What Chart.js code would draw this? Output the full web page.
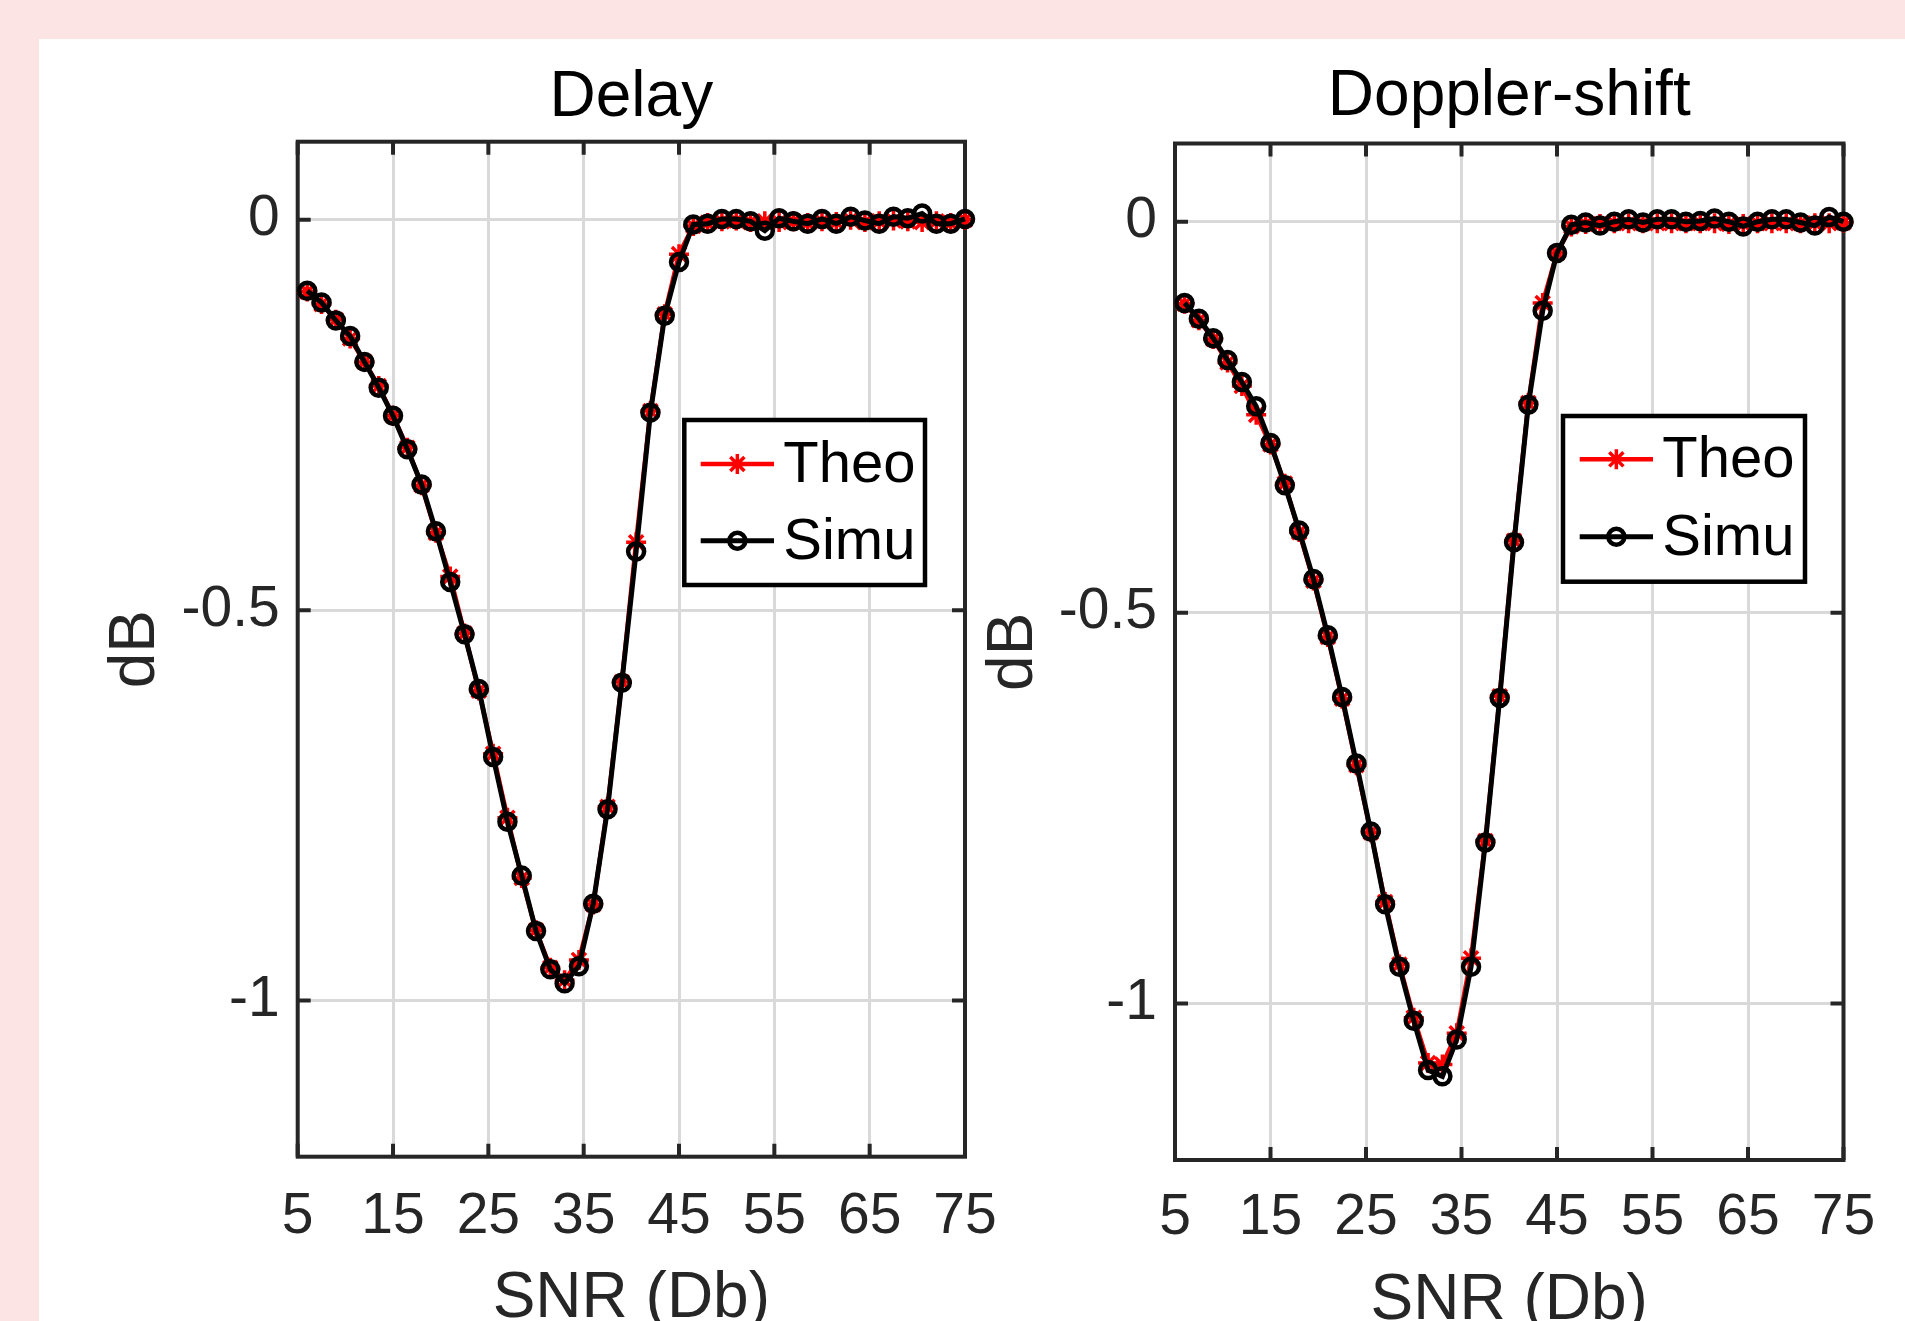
<!DOCTYPE html>
<html>
<head>
<meta charset="utf-8">
<title>Delay / Doppler-shift</title>
<script src="https://cdn.jsdelivr.net/npm/chart.js@4.4.1/dist/chart.umd.min.js"></script>
<style>
  html, body { margin: 0; padding: 0; width: 1905px; height: 1321px; overflow: hidden; background: #fde4e4; }
  #panel { position: absolute; left: 39px; top: 39px; right: 0; bottom: 0; background: #ffffff; }
  canvas { position: absolute; top: 0; }
  #delay   { left: 0; }
  #doppler { left: 960px; }
</style>
</head>
<body>
<div id="panel"></div>
<canvas id="delay" width="1030" height="1400"></canvas>
<canvas id="doppler" width="945" height="1400"></canvas>

<script>
/* ── data ───────────────────────────────────────────────────── */
const SNR = [6, 7.5, 9, 10.5, 12, 13.5, 15, 16.5, 18, 19.5,
             21, 22.5, 24, 25.5, 27, 28.5, 30, 31.5, 33, 34.5,
             36, 37.5, 39, 40.5, 42, 43.5, 45, 46.5, 48, 49.5,
             51, 52.5, 54, 55.5, 57, 58.5, 60, 61.5, 63, 64.5,
             66, 67.5, 69, 70.5, 72, 73.5, 75];

const DELAY_THEO = [-0.092, -0.108, -0.128, -0.152, -0.182, -0.213, -0.251, -0.292, -0.340, -0.401,
                    -0.457, -0.530, -0.603, -0.684, -0.766, -0.843, -0.910, -0.958, -0.974, -0.948,
                    -0.877, -0.752, -0.592, -0.413, -0.245, -0.121, -0.044, -0.008, -0.004, -0.002,
                    -0.001, -0.003, -0.002, -0.003, -0.002, -0.004, -0.002, -0.003,  0.000, -0.003,
                    -0.002, -0.001, -0.002, -0.003, -0.002, -0.004,  0.000];
const DELAY_SIMU = [-0.091, -0.106, -0.129, -0.149, -0.182, -0.215, -0.251, -0.294, -0.339, -0.399,
                    -0.464, -0.531, -0.601, -0.688, -0.771, -0.840, -0.911, -0.960, -0.978, -0.956,
                    -0.876, -0.755, -0.593, -0.425, -0.247, -0.123, -0.054, -0.006, -0.005,  0.001,
                     0.001, -0.002, -0.014,  0.002, -0.002, -0.005,  0.001, -0.005,  0.004, -0.001,
                    -0.005,  0.004,  0.002,  0.008, -0.005, -0.005,  0.001];

const DOPPLER_THEO = [-0.105, -0.126, -0.150, -0.180, -0.210, -0.247, -0.285, -0.335, -0.397, -0.459,
                      -0.531, -0.610, -0.695, -0.781, -0.870, -0.950, -1.018, -1.076, -1.078, -1.038,
                      -0.942, -0.792, -0.607, -0.408, -0.232, -0.104, -0.040, -0.006, -0.003, -0.003,
                      -0.002, -0.002, -0.002, -0.002, -0.002, -0.002, -0.002, -0.002, -0.003, -0.003,
                      -0.002, -0.002, -0.002, -0.002, -0.002, -0.002, -0.001];
const DOPPLER_SIMU = [-0.104, -0.124, -0.149, -0.177, -0.205, -0.236, -0.283, -0.337, -0.395, -0.457,
                      -0.529, -0.608, -0.693, -0.780, -0.873, -0.953, -1.022, -1.085, -1.093, -1.046,
                      -0.953, -0.794, -0.609, -0.410, -0.234, -0.114, -0.040, -0.004, -0.001, -0.005,
                       0.000,  0.003, -0.001,  0.003,  0.003,  0.000,  0.001,  0.004,  0.000, -0.006,
                       0.000,  0.003,  0.003, -0.001, -0.005,  0.006,  0.000];

const X_TICKS = [5, 15, 25, 35, 45, 55, 65, 75];
const Y_TICKS = [-1, -0.5, 0];
const SERIES_NAMES = ['Theo', 'Simu'];

/* ── look ───────────────────────────────────────────────────── */
const FONT      = "'Liberation Sans', Arial, Helvetica, sans-serif";
const AXIS_CLR  = '#262626';
const GRID_CLR  = '#d9d9d9';

Chart.defaults.font.family = FONT;
Chart.defaults.color = AXIS_CLR;

/* MATLAB-like box, inward ticks and in-axes legend */
const matlabAxes = {
    id: 'matlabAxes',
    beforeDatasetsDraw(chart) {
        const { ctx, chartArea: a, scales: { x, y } } = chart;
        const tick = 13;
        ctx.save();
        ctx.strokeStyle = AXIS_CLR;
        ctx.lineWidth = 4;
        ctx.beginPath();
        X_TICKS.forEach(v => {
            const px = x.getPixelForValue(v);
            ctx.moveTo(px, a.bottom); ctx.lineTo(px, a.bottom - tick);
            ctx.moveTo(px, a.top);    ctx.lineTo(px, a.top + tick);
        });
        Y_TICKS.forEach(v => {
            const py = y.getPixelForValue(v);
            ctx.moveTo(a.left, py);  ctx.lineTo(a.left + tick, py);
            ctx.moveTo(a.right, py); ctx.lineTo(a.right - tick, py);
        });
        ctx.stroke();
        ctx.strokeRect(a.left, a.top, a.right - a.left, a.bottom - a.top);
        ctx.restore();
    },
    afterDatasetsDraw(chart, args, opts) {
        const { ctx, chartArea: a } = chart;
        const L = opts.box;
        const bx = a.left + L.x, by = a.top + L.y;
        ctx.save();
        ctx.fillStyle = '#ffffff';
        ctx.fillRect(bx, by, L.w, L.h);
        ctx.strokeStyle = '#000000';
        ctx.lineWidth = 4.5;
        ctx.strokeRect(bx, by, L.w, L.h);

        chart.data.datasets.forEach((ds, i) => {
            const ry = by + L.rows[i];
            const x0 = bx + L.x0, x1 = bx + L.x1, cx = (x0 + x1) / 2;
            ctx.strokeStyle = ds.borderColor;
            ctx.lineWidth = ds.borderWidth;
            ctx.beginPath();
            ctx.moveTo(x0, ry); ctx.lineTo(x1, ry);
            ctx.stroke();

            const r = ds.pointRadius;
            ctx.lineWidth = ds.pointBorderWidth;
            ctx.beginPath();
            if (ds.pointStyle === 'star') {
                for (let k = 0; k < 4; k++) {
                    const ang = k * Math.PI / 4;
                    ctx.moveTo(cx - Math.cos(ang) * r, ry - Math.sin(ang) * r);
                    ctx.lineTo(cx + Math.cos(ang) * r, ry + Math.sin(ang) * r);
                }
            } else {
                ctx.arc(cx, ry, r, 0, Math.PI * 2);
            }
            ctx.stroke();

            ctx.fillStyle = '#000000';
            ctx.font = `58px ${FONT}`;
            ctx.textBaseline = 'middle';
            ctx.textAlign = 'left';
            ctx.fillText(ds.label, bx + L.tx, ry + 2);
        });
        ctx.restore();
    },
};

function makePanel(canvasId, title, theo, simu, lay) {
    const pts = vals => SNR.map((x, i) => ({ x, y: vals[i] }));
    return new Chart(document.getElementById(canvasId), {
        type: 'line',
        data: {
            datasets: [
                {
                    label: SERIES_NAMES[0],
                    data: pts(theo),
                    borderColor: '#ff0000',
                    borderWidth: 4.5,
                    pointStyle: 'star',
                    pointRadius: 10,
                    pointBorderWidth: 3.5,
                    pointBorderColor: '#ff0000',
                    pointBackgroundColor: '#ff0000',
                    tension: 0,
                    clip: false,
                    order: 2,
                },
                {
                    label: SERIES_NAMES[1],
                    data: pts(simu),
                    borderColor: '#000000',
                    borderWidth: 5,
                    pointStyle: 'circle',
                    pointRadius: 8,
                    pointBorderWidth: 4.5,
                    pointBorderColor: '#000000',
                    pointBackgroundColor: 'rgba(0,0,0,0)',
                    tension: 0,
                    clip: false,
                    order: 1,
                },
            ],
        },
        options: {
            responsive: false,
            animation: false,
            events: [],
            layout: { padding: { left: lay.padL, right: lay.padR, top: 0, bottom: lay.padB } },
            plugins: {
                legend: { display: false },
                tooltip: { enabled: false },
                title: {
                    display: true,
                    text: title,
                    fullSize: false,
                    color: '#000000',
                    font: { size: 64, weight: 'normal' },
                    padding: { top: lay.titleTop, bottom: lay.titleBottom },
                },
                matlabAxes: { box: lay.legend },
            },
            scales: {
                x: {
                    type: 'linear',
                    min: 5, max: 75,
                    afterBuildTicks: s => { s.ticks = X_TICKS.map(v => ({ value: v })); },
                    afterFit: s => { s.height = lay.xHeight; },
                    ticks: { color: AXIS_CLR, font: { size: 57 }, padding: lay.xTickPad, maxRotation: 0, autoSkip: false },
                    grid: { color: GRID_CLR, lineWidth: 3, drawTicks: false },
                    border: { display: false },
                    title: { display: true, text: 'SNR (Db)', color: AXIS_CLR, font: { size: 64 }, padding: 0 },
                },
                y: {
                    min: -1.2, max: 0.1,
                    afterBuildTicks: s => { s.ticks = Y_TICKS.map(v => ({ value: v })); },
                    afterFit: s => { s.width = lay.yWidth; },
                    ticks: { color: AXIS_CLR, font: { size: 57 }, padding: 18, callback: v => String(v) },
                    grid: { color: GRID_CLR, lineWidth: 3, drawTicks: false },
                    border: { display: false },
                    title: { display: true, text: 'dB', color: AXIS_CLR, font: { size: 64 }, padding: 0 },
                },
            },
        },
        plugins: [matlabAxes],
    });
}

makePanel('delay', 'Delay', DELAY_THEO, DELAY_SIMU, {
    padL: 98, padR: 65, padB: 62.6,
    yWidth: 199.7, xHeight: 180.7, xTickPad: 26,
    titleTop: 59.6, titleBottom: 5.3,
    legend: { x: 386.6, y: 278.3, w: 240.7, h: 165, rows: [44, 120.7], x0: 16.4, x1: 89.7, tx: 99 },
});

makePanel('doppler', 'Doppler-shift', DOPPLER_THEO, DOPPLER_SIMU, {
    padL: 16.1, padR: 61.5, padB: 60.6,
    yWidth: 198.9, xHeight: 179.4, xTickPad: 24.4,
    titleTop: 59.4, titleBottom: 7.3,
    legend: { x: 388, y: 272.5, w: 242, h: 165.7, rows: [43.3, 120.7], x0: 16.7, x1: 90, tx: 99.3 },
});
</script>
</body>
</html>
